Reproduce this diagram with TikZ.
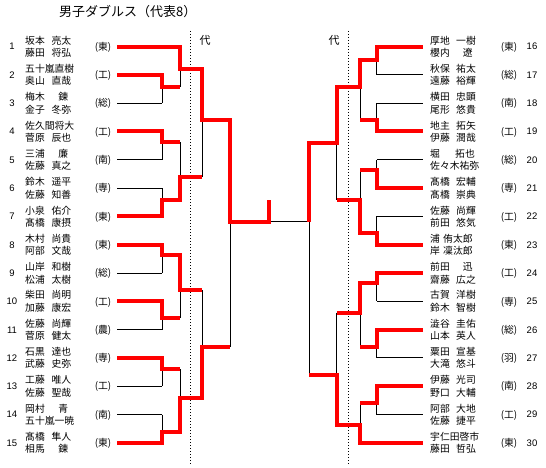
\documentclass[tikz,border=0pt]{standalone}
\usepackage{fontspec}
\setmainfont{Noto Sans CJK JP}
\newfontfamily\numfont{Liberation Sans}
\newcommand\nm[2]{\makebox[26.5pt][l]{#1}#2}
\newcommand\nmr[2]{\makebox[26pt][l]{#1}#2}
\begin{document}
\begin{tikzpicture}[x=1pt,y=-1pt,
  nmtext/.style={inner sep=0pt,anchor=base west,font=\fontsize{9.8}{11}\selectfont},
  aftext/.style={inner sep=0pt,anchor=base,font=\fontsize{9.8}{11}\selectfont},
  numtext/.style={inner sep=0pt,anchor=base,font=\numfont\fontsize{9.5}{11}\selectfont},
  thinline/.style={line width=1pt,black},
  winline/.style={line width=4pt,red,line join=miter},
  dotline/.style={line width=1pt,dash pattern=on 1pt off 2pt}]
\useasboundingbox (0,0) rectangle (546,468);
\fill[white] (0,0) rectangle (546,468);

% title and labels
\node[inner sep=0pt,anchor=base west,font=\fontsize{13}{15}\selectfont] (title) at (59,16.9) {男子ダブルス（代表8）};
\node[inner sep=0pt,anchor=base,font=\fontsize{11}{13}\selectfont] (dl) at (205,44.2) {代};
\node[inner sep=0pt,anchor=base,font=\fontsize{11}{13}\selectfont] (dr) at (334,44.2) {代};
\coordinate (dlt) at (190.7,31); \coordinate (dlb) at (190.7,465);
\coordinate (drt) at (348.7,31); \coordinate (drb) at (348.7,465);
\draw[dotline] (dlt) -- (dlb);
\draw[dotline] (drt) -- (drb);

% left entries
\foreach \i/\y/\na/\nb/\af in {
 1/46.6/{\nm{坂本}{亮太}}/{\nm{藤田}{将弘}}/東,
 2/74.9/{五十嵐直樹}/{\nm{奥山}{直哉}}/工,
 3/103.2/{\nm{梅木}{\hspace{6.6pt}錬}}/{\nm{金子}{冬弥}}/総,
 4/131.5/{佐久間将大}/{\nm{菅原}{辰也}}/工,
 5/159.8/{\nm{三浦}{\hspace{6.6pt}廉}}/{\nm{佐藤}{真之}}/南,
 6/188.1/{\nm{鈴木}{遥平}}/{\nm{佐藤}{知善}}/専,
 7/216.4/{\nm{小泉}{佑介}}/{\nm{髙橋}{康摂}}/東,
 8/244.7/{\nm{木村}{尚貴}}/{\nm{阿部}{文哉}}/東,
 9/273.0/{\nm{山岸}{和樹}}/{\nm{松浦}{太樹}}/総,
 10/301.3/{\nm{柴田}{尚明}}/{\nm{加藤}{康宏}}/工,
 11/329.6/{\nm{佐藤}{尚輝}}/{\nm{菅原}{健太}}/農,
 12/357.9/{\nm{石黒}{達也}}/{\nm{武藤}{史弥}}/専,
 13/386.2/{\nm{工藤}{唯人}}/{\nm{佐藤}{聖哉}}/工,
 14/414.5/{\nm{岡村}{\hspace{6.6pt}青}}/{五十嵐一暁}/南,
 15/442.8/{\nm{髙橋}{隼人}}/{\nm{相馬}{\hspace{6.6pt}錬}}/東}
{
 \node[numtext] (Ln\i) at (12,{\y+3.4}) {\i};
 \node[nmtext] (La\i) at (25,{\y-2.4}) {\na};
 \node[nmtext] (Lb\i) at (25,{\y+10.0}) {\nb};
 \node[aftext] (Lf\i) at (103,{\y+3.7}) {(\af)};
}

% right entries
\foreach \i/\y/\na/\nb/\af in {
 16/46.6/{\nmr{厚地}{一樹}}/{\nmr{櫻内}{\hspace{6.6pt}遼}}/東,
 17/74.9/{\nmr{秋保}{祐太}}/{\nmr{遠藤}{裕輝}}/総,
 18/103.2/{\nmr{横田}{忠顕}}/{\nmr{尾形}{悠貴}}/南,
 19/131.5/{\nmr{地主}{拓矢}}/{\nmr{伊藤}{潤哉}}/工,
 20/159.8/{\makebox[25pt][l]{堀}拓也}/{佐々木祐弥}/総,
 21/188.1/{\nmr{髙橋}{宏輔}}/{\nmr{髙橋}{崇典}}/専,
 22/216.4/{\nmr{佐藤}{尚輝}}/{\nmr{前田}{悠気}}/工,
 23/244.7/{\makebox[13pt][l]{浦}侑太郎}/{\makebox[13pt][l]{岸}凜汰郎}/東,
 24/273.0/{\nmr{前田}{\hspace{6.6pt}迅}}/{\nmr{齋藤}{広之}}/工,
 25/301.3/{\nmr{古賀}{洋樹}}/{\nmr{鈴木}{智樹}}/専,
 26/329.6/{\nmr{澁谷}{圭佑}}/{\nmr{山本}{英人}}/総,
 27/357.9/{\nmr{粟田}{宣基}}/{\nmr{大滝}{悠斗}}/羽,
 28/386.2/{\nmr{伊藤}{光司}}/{\nmr{野口}{大輔}}/南,
 29/414.5/{\nmr{阿部}{大地}}/{\nmr{佐藤}{捷平}}/工,
 30/442.8/{宇仁田啓市}/{\nmr{藤田}{哲弘}}/東}
{
 \node[numtext] (Rn\i) at (532,{\y+3.4}) {\i};
 \node[nmtext] (Ra\i) at (430,{\y-2.4}) {\na};
 \node[nmtext] (Rb\i) at (430,{\y+10.0}) {\nb};
 \node[aftext] (Rf\i) at (509,{\y+3.7}) {(\af)};
}

% ---------- black skeleton, left ----------
\draw[thinline] (117,46.6) -- (180,46.6);
\foreach \y in {74.9,103.2,131.5,159.8,188.1,216.4,244.7,273.0,301.3,329.6,357.9,386.2,414.5,442.8}
  \draw[thinline] (117,\y) -- (162,\y);
\foreach \a/\b in {74.9/103.2,131.5/159.8,188.1/216.4,244.7/273.0,301.3/329.6,357.9/386.2,414.5/442.8}
  \draw[thinline] (162,\a) -- (162,\b);
\foreach \y in {87,142.5,200,255,317.5,369,432}
  \draw[thinline] (162,\y) -- (180,\y);
\foreach \a/\b in {46.6/87,142.5/200,255/317.5,369/432}
  \draw[thinline] (180,\a) -- (180,\b);
\foreach \y in {69.3,176.7,290,397.7}
  \draw[thinline] (180,\y) -- (202.3,\y);
\foreach \a/\b in {69.3/176.7,290/397.7}
  \draw[thinline] (202.3,\a) -- (202.3,\b);
\foreach \y in {120,346.7}
  \draw[thinline] (202.3,\y) -- (230,\y);
\draw[thinline] (230,120) -- (230,346.7);
\draw[thinline] (230,221.7) -- (309.3,221.7);

% ---------- black skeleton, right ----------
\foreach \y in {46.6,74.9,103.2,131.5,159.8,188.1,216.4,244.7,273.0,301.3,329.6,357.9,386.2,414.5}
  \draw[thinline] (422.7,\y) -- (376.7,\y);
\draw[thinline] (422.7,442.8) -- (360,442.8);
\foreach \a/\b in {46.6/74.9,103.2/131.5,159.8/188.1,216.4/244.7,273.0/301.3,329.6/357.9,386.2/414.5}
  \draw[thinline] (376.7,\a) -- (376.7,\b);
\foreach \y in {60,120,170,233,283.3,346.7,403.3}
  \draw[thinline] (376.7,\y) -- (360,\y);
\foreach \a/\b in {60/120,170/233,283.3/346.7,403.3/442.8}
  \draw[thinline] (360,\a) -- (360,\b);
\foreach \y in {86.7,200,312.7,425}
  \draw[thinline] (360,\y) -- (336.7,\y);
\foreach \a/\b in {86.7/200,312.7/425}
  \draw[thinline] (336.7,\a) -- (336.7,\b);
\foreach \y in {142.7,375}
  \draw[thinline] (336.7,\y) -- (309.3,\y);
\draw[thinline] (309.3,142.7) -- (309.3,375);

% ---------- winners, left ----------
\draw[winline] (117,46.6) -- (180,46.6) -- (180,69.3) -- (202.3,69.3) -- (202.3,120) -- (230,120) -- (230,221.7) -- (269.3,221.7) -- (269.3,200);
\draw[winline] (117,74.9) -- (162,74.9) -- (162,87) -- (180,87);
\draw[winline] (117,131.5) -- (162,131.5) -- (162,142.5) -- (180,142.5);
\draw[winline] (117,216.4) -- (162,216.4) -- (162,200) -- (180,200) -- (180,176.7) -- (202.3,176.7);
\draw[winline] (117,244.7) -- (162,244.7) -- (162,255) -- (180,255) -- (180,290) -- (202.3,290);
\draw[winline] (117,301.3) -- (162,301.3) -- (162,317.5) -- (180,317.5);
\draw[winline] (117,357.9) -- (162,357.9) -- (162,369) -- (180,369);
\draw[winline] (117,442.8) -- (162,442.8) -- (162,432) -- (180,432) -- (180,397.7) -- (202.3,397.7) -- (202.3,346.7) -- (230,346.7);

% ---------- winners, right ----------
\draw[winline] (422.7,46.6) -- (376.7,46.6) -- (376.7,60) -- (360,60) -- (360,86.7) -- (336.7,86.7) -- (336.7,142.7) -- (309.3,142.7) -- (309.3,221.7);
\draw[winline] (422.7,131.5) -- (376.7,131.5) -- (376.7,120) -- (360,120);
\draw[winline] (422.7,188.1) -- (376.7,188.1) -- (376.7,170) -- (360,170);
\draw[winline] (422.7,244.7) -- (376.7,244.7) -- (376.7,233) -- (360,233) -- (360,200) -- (336.7,200);
\draw[winline] (422.7,273.0) -- (376.7,273.0) -- (376.7,283.3) -- (360,283.3) -- (360,312.7) -- (336.7,312.7);
\draw[winline] (422.7,329.6) -- (376.7,329.6) -- (376.7,346.7) -- (360,346.7);
\draw[winline] (422.7,386.2) -- (376.7,386.2) -- (376.7,403.3) -- (360,403.3);
\draw[winline] (422.7,442.8) -- (360,442.8) -- (360,425) -- (336.7,425) -- (336.7,375) -- (309.3,375);
\end{tikzpicture}
\end{document}
